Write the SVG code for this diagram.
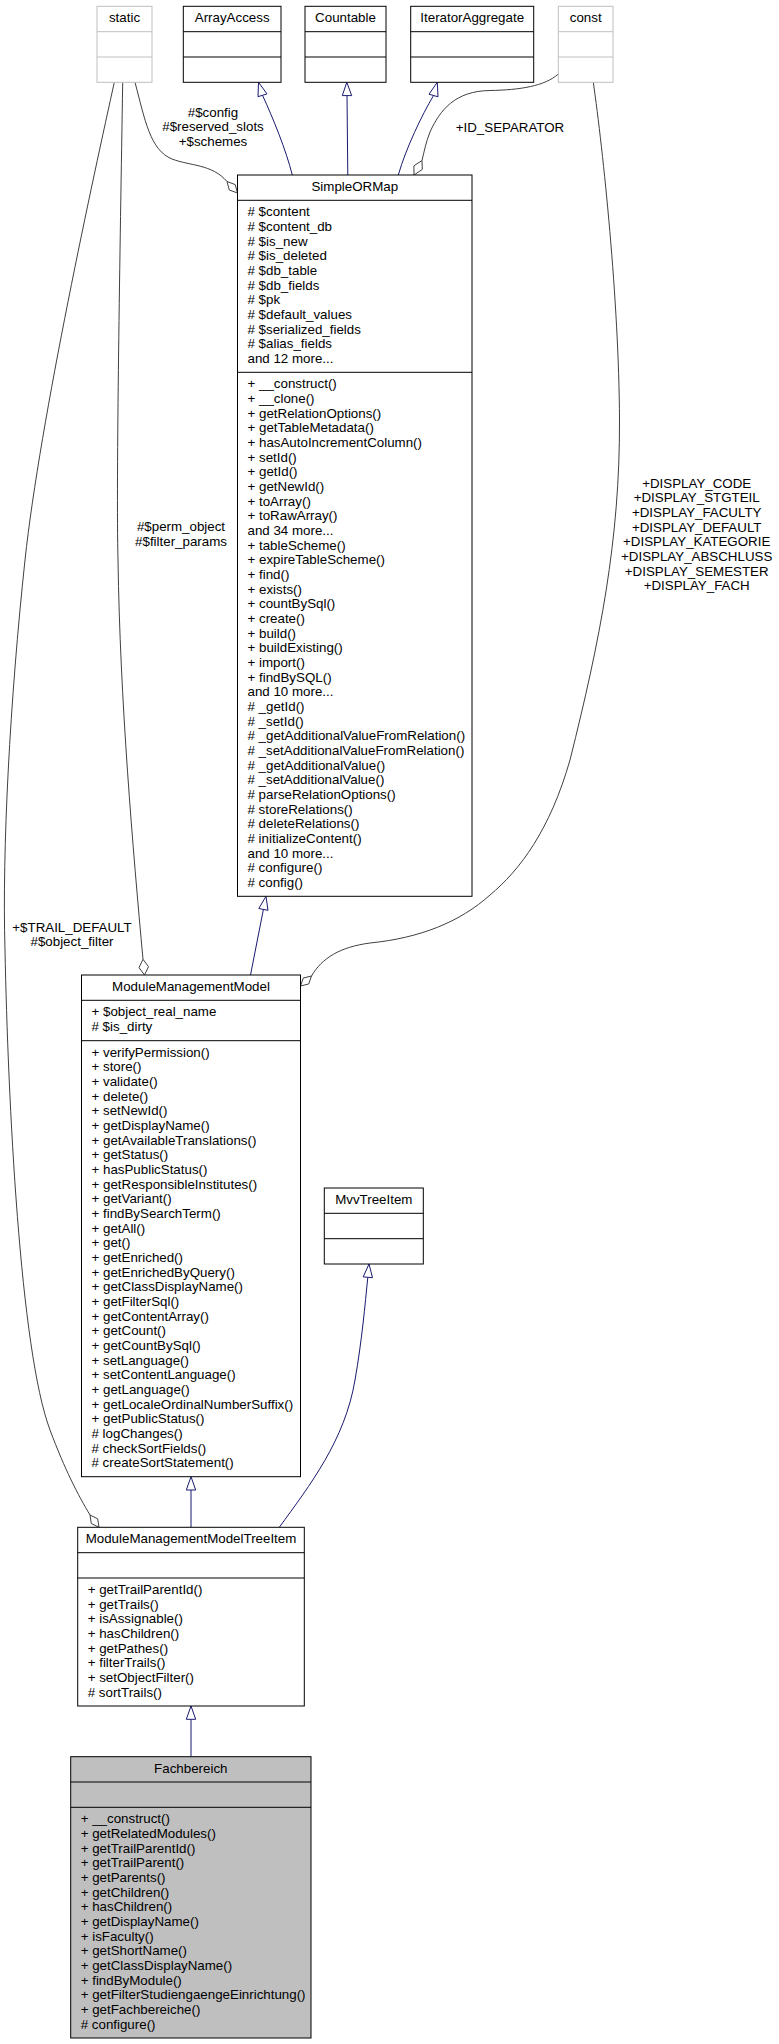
<svg xmlns="http://www.w3.org/2000/svg" width="779" height="2044" viewBox="0 0 779 2044">
<style>
.t{font-family:"Liberation Sans",Arial,Helvetica,sans-serif;font-size:13.33px;fill:#000}
.c{text-anchor:middle}
.box{fill:#fff;stroke:#000;stroke-width:1}
.sel{fill:#bfbfbf;stroke:#000;stroke-width:1}
.gbox{fill:#fff;stroke:#bfbfbf;stroke-width:1}
.dv{stroke:#000;stroke-width:1}
.gdv{stroke:#bfbfbf;stroke-width:1}
.inh{fill:none;stroke:#191970;stroke-width:1}
.inhh{fill:#fff;stroke:#191970;stroke-width:1}
.use{fill:none;stroke:#404040;stroke-width:1}
.useh{fill:#fff;stroke:#404040;stroke-width:1}
</style>
<rect width="779" height="2044" fill="#fff"/>

<g id="connectors">
  <path class="inh" d="M292.3,175 C286,150 273,118 262.5,95.3"/>
  <polygon class="inhh" points="267,93.9 258.5,82.3 258,96.7"/>
  <path class="inh" d="M347.8,175 L347,95.6"/>
  <polygon class="inhh" points="351.7,95.6 346.8,82.3 342.3,95.6"/>
  <path class="inh" d="M398.3,175 C406,148 422,115 433.5,95.5"/>
  <polygon class="inhh" points="438,96.8 437.3,82.3 429,94.2"/>
  <path class="inh" d="M250.5,975 L263.4,909.4"/>
  <polygon class="inhh" points="268,910.3 266,896.3 258.8,908.5"/>
  <path class="inh" d="M191,1527.3 L191,1490"/>
  <polygon class="inhh" points="195.7,1490 191,1476.7 186.3,1490"/>
  <path class="inh" d="M279.3,1527.3 C310,1485 345,1440 355,1380 C362,1340 365,1305 367.8,1277.3"/>
  <polygon class="inhh" points="372.5,1277.7 369,1264 363.2,1276.9"/>
  <path class="inh" d="M191,1756.7 L191,1719.3"/>
  <polygon class="inhh" points="195.7,1719.3 191,1706 186.3,1719.3"/>

  <path class="use" d="M135,82.3 C145,120 150,150 172,159 C190,166 212,164 227,181.5"/>
  <polygon class="useh" points="237.5,193 235.2,184.6 227,181.5 229.3,190"/>
  <text class="t c" x="213" y="116.7">#$config</text>
  <text class="t c" x="213" y="131.3">#$reserved_slots</text>
  <text class="t c" x="213" y="146">+$schemes</text>

  <path class="use" d="M122.7,82.3 C120,250 116,480 118,560 C120,700 133,850 143,959.3"/>
  <polygon class="useh" points="144.5,975 148.5,966.7 143,959.3 139,967.6"/>
  <text class="t c" x="181" y="531">#$perm_object</text>
  <text class="t c" x="181" y="545.7">#$filter_params</text>

  <path class="use" d="M114.3,82.3 C95,170 40,420 25,560 C10,700 2,850 5,950 C8,1100 20,1350 50,1430 C65,1470 78,1495 90,1515"/>
  <polygon class="useh" points="99,1527.3 97.7,1518.8 90,1515 91.3,1523.5"/>
  <text class="t c" x="72" y="931.7">+$TRAIL_DEFAULT</text>
  <text class="t c" x="72" y="946.3">#$object_filter</text>

  <path class="use" d="M558.3,74 C545,86 520,90 490,90.5 C455,91 440,110 430,132 C426,142 424,152 422,160.5"/>
  <polygon class="useh" points="414,175 422.3,169.4 422,160.5 413.9,165.8"/>
  <text class="t c" x="510" y="131.7">+ID_SEPARATOR</text>

  <path class="use" d="M593.3,82.3 C603,150 619,300 619.5,420 C620,540 600,640 570,760 C550,830 520,870 490,895 C460,922 420,938 370,943 C340,947 322,958 311.5,976"/>
  <polygon class="useh" points="300.5,986 308.7,984 311.5,976 303.3,978"/>
  <text class="t c" x="696.7" y="487.7">+DISPLAY_CODE</text>
  <text class="t c" x="696.7" y="502.3">+DISPLAY_STGTEIL</text>
  <text class="t c" x="696.7" y="517">+DISPLAY_FACULTY</text>
  <text class="t c" x="696.7" y="531.7">+DISPLAY_DEFAULT</text>
  <text class="t c" x="696.7" y="546.3">+DISPLAY_KATEGORIE</text>
  <text class="t c" x="696.7" y="561">+DISPLAY_ABSCHLUSS</text>
  <text class="t c" x="696.7" y="575.7">+DISPLAY_SEMESTER</text>
  <text class="t c" x="696.7" y="590.3">+DISPLAY_FACH</text>
</g>

<g id="static">
  <rect class="gbox" x="97" y="6.3" width="55" height="76"/>
  <line class="gdv" x1="97" y1="31.7" x2="152" y2="31.7"/>
  <line class="gdv" x1="97" y1="57" x2="152" y2="57"/>
  <text class="t c" x="124.5" y="22.3">static</text>
</g>
<g id="ArrayAccess">
  <rect class="box" x="183.3" y="6.3" width="97.7" height="76"/>
  <line class="dv" x1="183.3" y1="31.7" x2="281" y2="31.7"/>
  <line class="dv" x1="183.3" y1="57" x2="281" y2="57"/>
  <text class="t c" x="232.2" y="22.3">ArrayAccess</text>
</g>
<g id="Countable">
  <rect class="box" x="305" y="6.3" width="81" height="76"/>
  <line class="dv" x1="305" y1="31.7" x2="386" y2="31.7"/>
  <line class="dv" x1="305" y1="57" x2="386" y2="57"/>
  <text class="t c" x="345.5" y="22.3">Countable</text>
</g>
<g id="IteratorAggregate">
  <rect class="box" x="410.7" y="6.3" width="123" height="76"/>
  <line class="dv" x1="410.7" y1="31.7" x2="533.7" y2="31.7"/>
  <line class="dv" x1="410.7" y1="57" x2="533.7" y2="57"/>
  <text class="t c" x="472.2" y="22.3">IteratorAggregate</text>
</g>
<g id="const">
  <rect class="gbox" x="558.3" y="6.3" width="54.7" height="76"/>
  <line class="gdv" x1="558.3" y1="31.7" x2="613" y2="31.7"/>
  <line class="gdv" x1="558.3" y1="57" x2="613" y2="57"/>
  <text class="t c" x="585.7" y="22.3">const</text>
</g>

<g id="SimpleORMap">
  <rect class="box" x="237.5" y="175" width="234.5" height="721.3"/>
  <line class="dv" x1="237.5" y1="200.3" x2="472" y2="200.3"/>
  <line class="dv" x1="237.5" y1="372.3" x2="472" y2="372.3"/>
  <text class="t c" x="354.8" y="191">SimpleORMap</text>
  <text class="t" y="216.3">
    <tspan x="247.5"># $content</tspan>
    <tspan x="247.5" dy="14.667"># $content_db</tspan>
    <tspan x="247.5" dy="14.667"># $is_new</tspan>
    <tspan x="247.5" dy="14.667"># $is_deleted</tspan>
    <tspan x="247.5" dy="14.667"># $db_table</tspan>
    <tspan x="247.5" dy="14.667"># $db_fields</tspan>
    <tspan x="247.5" dy="14.667"># $pk</tspan>
    <tspan x="247.5" dy="14.667"># $default_values</tspan>
    <tspan x="247.5" dy="14.667"># $serialized_fields</tspan>
    <tspan x="247.5" dy="14.667"># $alias_fields</tspan>
    <tspan x="247.5" dy="14.667">and 12 more...</tspan>
  </text>
  <text class="t" y="388.3">
    <tspan x="247.5">+ __construct()</tspan>
    <tspan x="247.5" dy="14.667">+ __clone()</tspan>
    <tspan x="247.5" dy="14.667">+ getRelationOptions()</tspan>
    <tspan x="247.5" dy="14.667">+ getTableMetadata()</tspan>
    <tspan x="247.5" dy="14.667">+ hasAutoIncrementColumn()</tspan>
    <tspan x="247.5" dy="14.667">+ setId()</tspan>
    <tspan x="247.5" dy="14.667">+ getId()</tspan>
    <tspan x="247.5" dy="14.667">+ getNewId()</tspan>
    <tspan x="247.5" dy="14.667">+ toArray()</tspan>
    <tspan x="247.5" dy="14.667">+ toRawArray()</tspan>
    <tspan x="247.5" dy="14.667">and 34 more...</tspan>
    <tspan x="247.5" dy="14.667">+ tableScheme()</tspan>
    <tspan x="247.5" dy="14.667">+ expireTableScheme()</tspan>
    <tspan x="247.5" dy="14.667">+ find()</tspan>
    <tspan x="247.5" dy="14.667">+ exists()</tspan>
    <tspan x="247.5" dy="14.667">+ countBySql()</tspan>
    <tspan x="247.5" dy="14.667">+ create()</tspan>
    <tspan x="247.5" dy="14.667">+ build()</tspan>
    <tspan x="247.5" dy="14.667">+ buildExisting()</tspan>
    <tspan x="247.5" dy="14.667">+ import()</tspan>
    <tspan x="247.5" dy="14.667">+ findBySQL()</tspan>
    <tspan x="247.5" dy="14.667">and 10 more...</tspan>
    <tspan x="247.5" dy="14.667"># _getId()</tspan>
    <tspan x="247.5" dy="14.667"># _setId()</tspan>
    <tspan x="247.5" dy="14.667"># _getAdditionalValueFromRelation()</tspan>
    <tspan x="247.5" dy="14.667"># _setAdditionalValueFromRelation()</tspan>
    <tspan x="247.5" dy="14.667"># _getAdditionalValue()</tspan>
    <tspan x="247.5" dy="14.667"># _setAdditionalValue()</tspan>
    <tspan x="247.5" dy="14.667"># parseRelationOptions()</tspan>
    <tspan x="247.5" dy="14.667"># storeRelations()</tspan>
    <tspan x="247.5" dy="14.667"># deleteRelations()</tspan>
    <tspan x="247.5" dy="14.667"># initializeContent()</tspan>
    <tspan x="247.5" dy="14.667">and 10 more...</tspan>
    <tspan x="247.5" dy="14.667"># configure()</tspan>
    <tspan x="247.5" dy="14.667"># config()</tspan>
  </text>
</g>

<g id="ModuleManagementModel">
  <rect class="box" x="81.5" y="975" width="219" height="501.7"/>
  <line class="dv" x1="81.5" y1="1000.3" x2="300.5" y2="1000.3"/>
  <line class="dv" x1="81.5" y1="1040.7" x2="300.5" y2="1040.7"/>
  <text class="t c" x="191" y="991">ModuleManagementModel</text>
  <text class="t" y="1016.3">
    <tspan x="91.5">+ $object_real_name</tspan>
    <tspan x="91.5" dy="14.667"># $is_dirty</tspan>
  </text>
  <text class="t" y="1056.7">
    <tspan x="91.5">+ verifyPermission()</tspan>
    <tspan x="91.5" dy="14.667">+ store()</tspan>
    <tspan x="91.5" dy="14.667">+ validate()</tspan>
    <tspan x="91.5" dy="14.667">+ delete()</tspan>
    <tspan x="91.5" dy="14.667">+ setNewId()</tspan>
    <tspan x="91.5" dy="14.667">+ getDisplayName()</tspan>
    <tspan x="91.5" dy="14.667">+ getAvailableTranslations()</tspan>
    <tspan x="91.5" dy="14.667">+ getStatus()</tspan>
    <tspan x="91.5" dy="14.667">+ hasPublicStatus()</tspan>
    <tspan x="91.5" dy="14.667">+ getResponsibleInstitutes()</tspan>
    <tspan x="91.5" dy="14.667">+ getVariant()</tspan>
    <tspan x="91.5" dy="14.667">+ findBySearchTerm()</tspan>
    <tspan x="91.5" dy="14.667">+ getAll()</tspan>
    <tspan x="91.5" dy="14.667">+ get()</tspan>
    <tspan x="91.5" dy="14.667">+ getEnriched()</tspan>
    <tspan x="91.5" dy="14.667">+ getEnrichedByQuery()</tspan>
    <tspan x="91.5" dy="14.667">+ getClassDisplayName()</tspan>
    <tspan x="91.5" dy="14.667">+ getFilterSql()</tspan>
    <tspan x="91.5" dy="14.667">+ getContentArray()</tspan>
    <tspan x="91.5" dy="14.667">+ getCount()</tspan>
    <tspan x="91.5" dy="14.667">+ getCountBySql()</tspan>
    <tspan x="91.5" dy="14.667">+ setLanguage()</tspan>
    <tspan x="91.5" dy="14.667">+ setContentLanguage()</tspan>
    <tspan x="91.5" dy="14.667">+ getLanguage()</tspan>
    <tspan x="91.5" dy="14.667">+ getLocaleOrdinalNumberSuffix()</tspan>
    <tspan x="91.5" dy="14.667">+ getPublicStatus()</tspan>
    <tspan x="91.5" dy="14.667"># logChanges()</tspan>
    <tspan x="91.5" dy="14.667"># checkSortFields()</tspan>
    <tspan x="91.5" dy="14.667"># createSortStatement()</tspan>
  </text>
</g>

<g id="MvvTreeItem">
  <rect class="box" x="324.3" y="1188" width="99" height="76"/>
  <line class="dv" x1="324.3" y1="1213.3" x2="423.3" y2="1213.3"/>
  <line class="dv" x1="324.3" y1="1238.7" x2="423.3" y2="1238.7"/>
  <text class="t c" x="373.8" y="1204">MvvTreeItem</text>
</g>

<g id="ModuleManagementModelTreeItem">
  <rect class="box" x="77.7" y="1527.3" width="226.6" height="178.7"/>
  <line class="dv" x1="77.7" y1="1552.7" x2="304.3" y2="1552.7"/>
  <line class="dv" x1="77.7" y1="1578" x2="304.3" y2="1578"/>
  <text class="t c" x="191" y="1543.3">ModuleManagementModelTreeItem</text>
  <text class="t" y="1594">
    <tspan x="87.7">+ getTrailParentId()</tspan>
    <tspan x="87.7" dy="14.667">+ getTrails()</tspan>
    <tspan x="87.7" dy="14.667">+ isAssignable()</tspan>
    <tspan x="87.7" dy="14.667">+ hasChildren()</tspan>
    <tspan x="87.7" dy="14.667">+ getPathes()</tspan>
    <tspan x="87.7" dy="14.667">+ filterTrails()</tspan>
    <tspan x="87.7" dy="14.667">+ setObjectFilter()</tspan>
    <tspan x="87.7" dy="14.667"># sortTrails()</tspan>
  </text>
</g>

<g id="Fachbereich">
  <rect class="sel" x="70.7" y="1756.7" width="240.3" height="281.3"/>
  <line class="dv" x1="70.7" y1="1782" x2="311" y2="1782"/>
  <line class="dv" x1="70.7" y1="1807.3" x2="311" y2="1807.3"/>
  <text class="t c" x="190.8" y="1772.7">Fachbereich</text>
  <text class="t" y="1823.3">
    <tspan x="80.7">+ __construct()</tspan>
    <tspan x="80.7" dy="14.667">+ getRelatedModules()</tspan>
    <tspan x="80.7" dy="14.667">+ getTrailParentId()</tspan>
    <tspan x="80.7" dy="14.667">+ getTrailParent()</tspan>
    <tspan x="80.7" dy="14.667">+ getParents()</tspan>
    <tspan x="80.7" dy="14.667">+ getChildren()</tspan>
    <tspan x="80.7" dy="14.667">+ hasChildren()</tspan>
    <tspan x="80.7" dy="14.667">+ getDisplayName()</tspan>
    <tspan x="80.7" dy="14.667">+ isFaculty()</tspan>
    <tspan x="80.7" dy="14.667">+ getShortName()</tspan>
    <tspan x="80.7" dy="14.667">+ getClassDisplayName()</tspan>
    <tspan x="80.7" dy="14.667">+ findByModule()</tspan>
    <tspan x="80.7" dy="14.667">+ getFilterStudiengaengeEinrichtung()</tspan>
    <tspan x="80.7" dy="14.667">+ getFachbereiche()</tspan>
    <tspan x="80.7" dy="14.667"># configure()</tspan>
  </text>
</g>
</svg>
